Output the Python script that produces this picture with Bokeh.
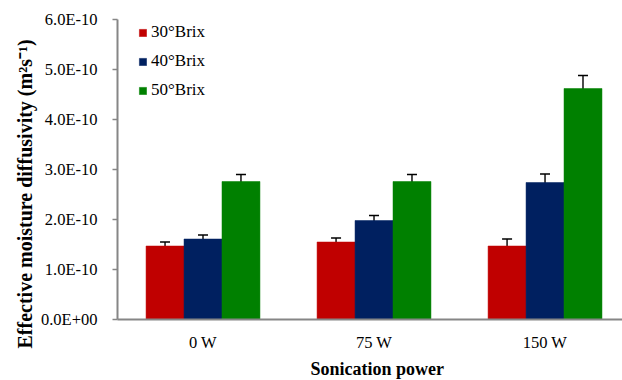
from bokeh.plotting import figure
from bokeh.models import (ColumnDataSource, Whisker, TeeHead, Legend, LegendItem, FixedTicker,
                          CustomJSTickFormatter, Range1d, Title)
from bokeh.embed import file_html
from bokeh.resources import INLINE

categories = ["0 W", "75 W", "150 W"]
series = ["30°Brix", "40°Brix", "50°Brix"]
colors = ["#C00000", "#002060", "#008000"]
values = {
    "30°Brix": [1.47e-10, 1.55e-10, 1.47e-10],
    "40°Brix": [1.61e-10, 1.98e-10, 2.74e-10],
    "50°Brix": [2.76e-10, 2.76e-10, 4.62e-10],
}
errors = {
    "30°Brix": [0.08e-10, 0.08e-10, 0.14e-10],
    "40°Brix": [0.08e-10, 0.10e-10, 0.17e-10],
    "50°Brix": [0.14e-10, 0.14e-10, 0.26e-10],
}
y_ticks = [0, 1e-10, 2e-10, 3e-10, 4e-10, 5e-10, 6e-10]
x_title = "Sonication power"
y_title = "Effective moisture diffusivity (m²s⁻¹)"

FONT = "Liberation Serif"

p = figure(width=622, height=380, output_backend="svg", toolbar_location=None,
           x_range=Range1d(-0.5, 2.453), y_range=Range1d(0, 6e-10),
           min_border_left=117, min_border_right=0, min_border_top=19, min_border_bottom=59)
p.outline_line_color = None
p.xgrid.visible = False
p.ygrid.visible = False

bw = 0.222
offsets = [-bw, 0, bw]
renderers = []
for s, c, off in zip(series, colors, offsets):
    xs = [i + off for i in range(len(categories))]
    top = values[s]
    err = errors[s]
    src = ColumnDataSource(dict(x=xs, top=top,
                                upper=[t + e for t, e in zip(top, err)],
                                lower=[t - e for t, e in zip(top, err)]))
    r = p.vbar(x="x", top="top", width=bw, source=src, fill_color=c, line_color=c, line_width=0.5)
    renderers.append(r)
    w = Whisker(source=src, base="x", upper="upper", lower="lower",
                line_color="black", line_width=1.4,
                upper_head=TeeHead(size=10, line_color="black", line_width=1.4),
                lower_head=TeeHead(size=10, line_color="black", line_width=1.4))
    p.add_layout(w)

# axes
p.xaxis.ticker = FixedTicker(ticks=list(range(len(categories))))
p.xaxis.major_label_overrides = {i: c for i, c in enumerate(categories)}
p.xaxis.major_tick_out = 0
p.xaxis.major_tick_in = 0
p.xaxis.minor_tick_out = 0
p.xaxis.minor_tick_in = 0
p.xaxis.major_label_standoff = 13

p.yaxis.ticker = FixedTicker(ticks=y_ticks)
p.yaxis.formatter = CustomJSTickFormatter(code="""
if (Math.abs(tick) < 1e-20) { return "0.0E+00"; }
return tick.toExponential(1).replace('e-', 'E-').replace('e+', 'E+');
""")
p.yaxis.major_tick_out = 5
p.yaxis.major_tick_in = 0
p.yaxis.minor_tick_out = 0
p.yaxis.minor_tick_in = 0
p.yaxis.major_label_standoff = 15

for ax in (p.xaxis, p.yaxis):
    ax.axis_line_color = "#868686"
    ax.axis_line_width = 2
    ax.major_tick_line_color = "#868686"
    ax.major_tick_line_width = 1.5
    ax.major_label_text_font = FONT
    ax.major_label_text_font_size = "16.5px"
    ax.major_label_text_color = "black"

# axis titles as side titles (allows offsetting like the original chart)
xt = Title(text=x_title, align="left", offset=193, standoff=4,
           text_font=FONT, text_font_size="18px", text_font_style="bold", text_color="black")
yt = Title(text=y_title, align="left", offset=-29, standoff=4,
           text_font=FONT, text_font_size="20px", text_font_style="bold", text_color="black")
p.add_layout(xt, "below")
p.add_layout(yt, "left")

legend = Legend(items=[LegendItem(label=s, renderers=[r]) for s, r in zip(series, renderers)],
                location=(18, 216), orientation="vertical")
legend.border_line_alpha = 0
legend.background_fill_alpha = 0
legend.padding = 3
legend.margin = 0
legend.spacing = 9
legend.label_height = 20
legend.glyph_width = 9
legend.glyph_height = 9
legend.label_standoff = 4
legend.label_text_font = FONT
legend.label_text_font_size = "17px"
legend.label_text_color = "black"
p.add_layout(legend)

open("out.html", "w").write(file_html(p, INLINE))
